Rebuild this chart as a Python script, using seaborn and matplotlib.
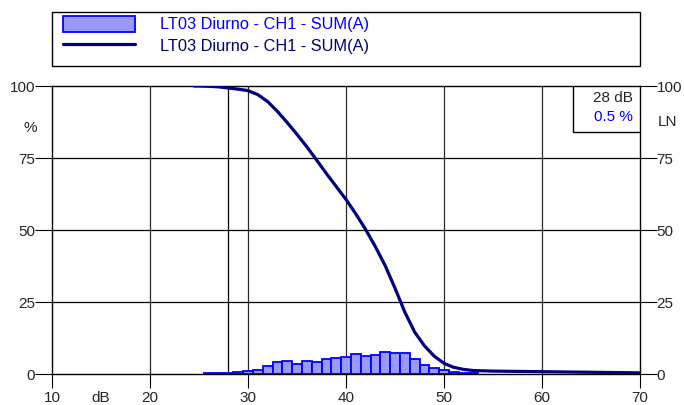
import matplotlib

matplotlib.use("Agg")
import matplotlib.pyplot as plt
import pandas as pd
import seaborn as sns
from matplotlib.lines import Line2D
from matplotlib.patches import Patch, Rectangle

# %% data
series_label = "LT03 Diurno - CH1 - SUM(A)"

# level distribution (% of time per 1 dB class)
dist_levels = [26, 27, 28, 29, 30, 31, 32, 33, 34, 35, 36, 37, 38, 39,
               40, 41, 42, 43, 44, 45, 46, 47, 48, 49, 50, 51, 52, 53]
dist_pct = [0.2, 0.3, 0.5, 0.7, 1.1, 1.4, 2.8, 4.0, 4.4, 3.6, 4.5, 4.1, 5.1, 5.7,
            6.0, 6.8, 6.2, 6.5, 7.5, 7.3, 7.4, 5.1, 3.1, 2.0, 1.4, 0.7, 0.4, 0.2]

# cumulative LN curve (% of time level is exceeded)
ln_levels = [24.5, 25, 26, 27, 28, 29, 30, 31, 32, 33, 34, 35, 36, 37, 38, 39, 40,
             41, 42, 43, 44, 45, 46, 47, 48, 49, 50, 51, 52, 53, 55, 60, 65, 70]
ln_pct = [100, 100, 99.9, 99.7, 99.3, 98.9, 98.4, 97.0, 94.6, 91.2, 87.3, 83.2, 78.9,
          74.3, 69.6, 65.1, 60.6, 55.6, 50.2, 44.2, 37.6, 29.8, 21.5, 14.6, 9.8,
          6.2, 3.7, 2.3, 1.6, 1.2, 1.0, 0.8, 0.6, 0.4]

cursor_db = 28
cursor_pct = 0.5

x_ticks = [10, 20, 30, 40, 50, 60, 70]
y_ticks = [0, 25, 50, 75, 100]

df_dist = pd.DataFrame({"level": dist_levels, "pct": dist_pct})
df_ln = pd.DataFrame({"level": ln_levels, "pct": ln_pct})

# %%
sns.set_theme(style="white")
plt.rcParams["font.family"] = ["Liberation Sans", "DejaVu Sans"]

W, H = 684, 405
fig = plt.figure(figsize=(W / 100, H / 100), dpi=100)
ax = fig.add_axes([52 / W, 1 - 374 / H, 588 / W, 288 / H])

bar_face = "#9999ff"
bar_edge = "#0000ff"
line_color = "#000080"

# grid + cursor
for xv in x_ticks[1:-1]:
    ax.axvline(xv, color="#2a2a2a", lw=0.9, zorder=1)
for yv in y_ticks[1:-1]:
    ax.axhline(yv, color="black", lw=0.9, zorder=1)
ax.axvline(cursor_db, color="black", lw=0.9, zorder=1)

sns.histplot(
    data=df_dist, x="level", weights="pct", discrete=True, stat="count",
    color=bar_face, edgecolor=bar_edge, linewidth=1.3, alpha=1, ax=ax, zorder=2,
)
sns.lineplot(data=df_ln, x="level", y="pct", color=line_color, lw=2.3, ax=ax, zorder=3)

ax.set_xlim(10, 70)
ax.set_ylim(0, 100)
ax.set_xlabel("")
ax.set_ylabel("")

for side in ["left", "right", "top", "bottom"]:
    ax.spines[side].set_visible(True)
    ax.spines[side].set_color("black")
    ax.spines[side].set_linewidth(1)

ax.set_xticks(x_ticks)
ax.set_yticks(y_ticks)
ax.tick_params(axis="x", direction="out", length=10, width=0.8, color="black",
               labelsize=11, pad=2, bottom=True)
ax.tick_params(axis="y", direction="out", length=12, width=0.8, color="black",
               labelsize=11, pad=0, left=True, right=True, labelright=True)

ax.text(15, -0.085, "dB", transform=ax.get_xaxis_transform(), ha="center", va="center",
        fontsize=11)
ax.text(-0.037, 0.855, "%", transform=ax.transAxes, ha="center", va="center", fontsize=11)
ax.text(1.047, 0.875, "LN", transform=ax.transAxes, ha="center", va="center", fontsize=11)

# cursor readout box
x0 = (573 - 52) / 588
y0 = (374 - 132) / 288
ax.add_patch(Rectangle((x0, y0), 1 - x0, 1 - y0, transform=ax.transAxes,
                       facecolor="white", edgecolor="black", lw=1, zorder=5))
ax.text(0.988, 0.957, f"{cursor_db} dB", transform=ax.transAxes, ha="right", va="center",
        fontsize=11, zorder=6)
ax.text(0.988, 0.892, f"{cursor_pct} %", transform=ax.transAxes, ha="right", va="center",
        fontsize=11, color="#0000ff", zorder=6)

# legend box at the top (frame drawn behind the axes-level legend)
fig.patches.append(Rectangle((52 / W, 1 - 66 / H), 588 / W, 54 / H,
                             transform=fig.transFigure, facecolor="none",
                             edgecolor="black", lw=1, zorder=-1))
handles = [
    Patch(facecolor=bar_face, edgecolor=bar_edge, lw=1.3),
    Line2D([], [], color=line_color, lw=2.3),
]
leg = ax.legend(
    handles, [series_label, series_label], loc="upper left",
    bbox_to_anchor=(63 / W, 1 - 16 / H), bbox_transform=fig.transFigure,
    frameon=False, fontsize=11.8, handlelength=4.4, handleheight=1.1,
    handletextpad=1.5, borderpad=0, labelspacing=0.3, borderaxespad=0,
)
for text, color in zip(leg.get_texts(), ["#0000ff", line_color]):
    text.set_color(color)

fig.savefig("out.png", dpi=100)
